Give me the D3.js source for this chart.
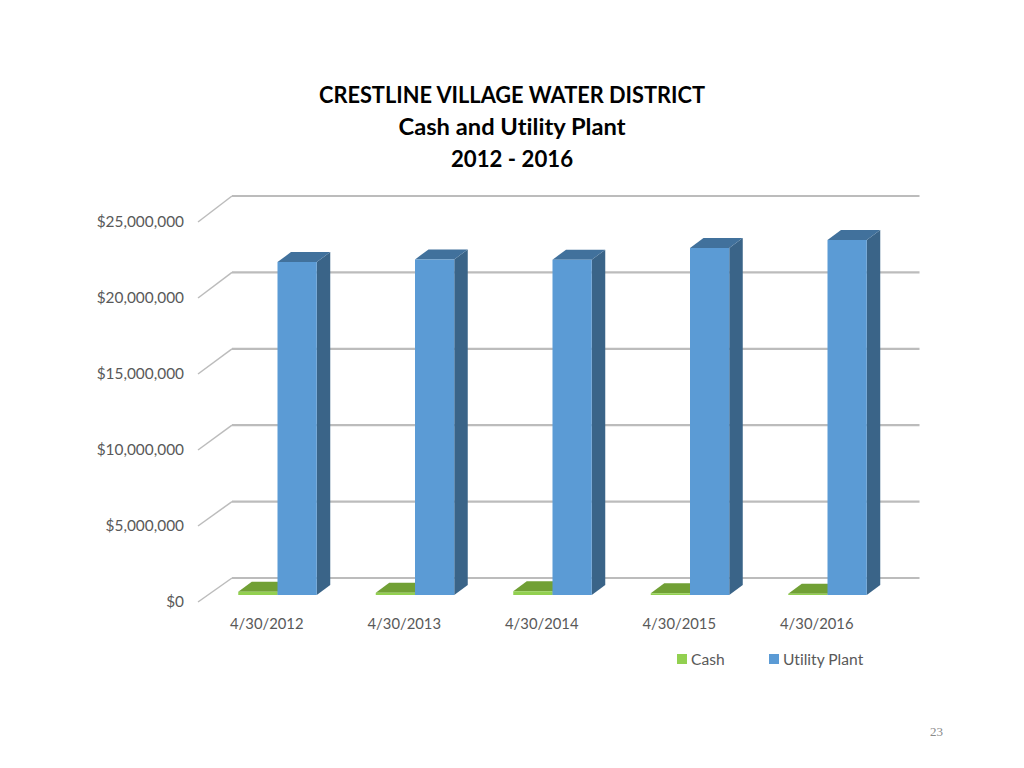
<!DOCTYPE html>
<html>
<head>
<meta charset="utf-8">
<script src="https://cdn.jsdelivr.net/npm/d3@7"></script>
<style>
  html, body { margin: 0; background: #fff; }
  text { font-family: Lato, "Open Sans", sans-serif; font-variant-ligatures: none; }
</style>
</head>
<body>
<svg id="chart" width="1024" height="768"></svg>
<script>
const titleLines = ["CRESTLINE VILLAGE WATER DISTRICT", "Cash and Utility Plant", "2012 - 2016"];
const dates = ["4/30/2012", "4/30/2013", "4/30/2014", "4/30/2015", "4/30/2016"];
const seriesNames = ["Cash", "Utility Plant"];
const cash = [220000, 150000, 240000, 110000, 90000];
const utilityPlant = [21900000, 22080000, 22060000, 22830000, 23350000];
const yTicks = [0, 5000000, 10000000, 15000000, 20000000, 25000000];

const svg = d3.select("#chart");

const wallDx = 34;
const barDepthX = 13.5, barDepthY = -10;
const barFrontDy = -7, barShiftX = 11;

const x = d3.scaleBand().domain(dates).range([198, 885.5]);
const y = d3.scaleLinear().domain([0, 25000000]).range([602, 222]);
const yBack = d3.scaleLinear().domain([0, 25000000]).range([578, 196]);   // back wall
const sub = d3.scaleBand().domain(seriesNames).range([-39.5, 39]);

const colors = {
    "Cash": { front: "#92d050", top: "#71a035", side: "#5f8a2c" },
    "Utility Plant": { front: "#5b9bd5", top: "#41719c", side: "#3a6488" }
};

// grid lines, floor/side piece then back wall
const grid = svg.append("g").attr("fill", "none").attr("stroke", "#bcbcbc");
yTicks.forEach(function(t) {
    grid.append("path")
        .attr("stroke-width", 1.5)
        .attr("d", d3.line()([[x.range()[0], y(t)], [x.range()[0] + wallDx, yBack(t)]]));
    grid.append("path")
        .attr("stroke-width", 2.2)
        .attr("d", d3.line()([[x.range()[0] + wallDx, yBack(t)], [x.range()[1] + wallDx, yBack(t)]]));
});

function drawBar(g, name, date, value) {
    let c = colors[name],
        x0 = x(date) + x.bandwidth() / 2 + barShiftX + sub(name),
        x1 = x0 + sub.bandwidth(),
        y0 = y(0) + barFrontDy,
        y1 = y(value) + barFrontDy;
    let poly = d3.line();
    g.append("path").attr("fill", c.side)
        .attr("d", poly([[x1, y0], [x1 + barDepthX, y0 + barDepthY], [x1 + barDepthX, y1 + barDepthY], [x1, y1]]) + "Z");
    g.append("path").attr("fill", c.top)
        .attr("d", poly([[x0, y1], [x0 + barDepthX, y1 + barDepthY], [x1 + barDepthX, y1 + barDepthY], [x1, y1]]) + "Z");
    g.append("path").attr("fill", c.front)
        .attr("d", poly([[x0, y0], [x1, y0], [x1, y1], [x0, y1]]) + "Z");
}

const bars = svg.append("g");
dates.forEach(function(d, i) {
    drawBar(bars, "Cash", d, cash[i]);
    drawBar(bars, "Utility Plant", d, utilityPlant[i]);
});

// axes
const yAxis = svg.append("g")
    .attr("transform", "translate(191,0)")
    .call(d3.axisLeft(y).tickValues(yTicks).tickSize(0).tickPadding(0)
        .tickFormat(d3.format("$,.0f")));
yAxis.select(".domain").remove();
yAxis.selectAll("text")
    .attr("x", -7)
    .style("font-family", "Lato").style("font-size", "15.4px").attr("fill", "#595959");

const xAxis = svg.append("g")
    .attr("transform", "translate(0,624)")
    .call(d3.axisBottom(x).tickSize(0).tickPadding(0));
xAxis.select(".domain").remove();
xAxis.selectAll("text")
    .attr("y", 0).attr("dy", "0.36em")
    .style("font-family", "Lato").style("font-size", "14.8px").attr("fill", "#595959");

// title, squeezed to the widths of the original font
const titleWidths = [386, 227, 122];
svg.append("g").selectAll("text").data(titleLines).join("text")
    .attr("x", 512)
    .attr("y", (d, i) => 103 + i * 32)
    .attr("text-anchor", "middle")
    .attr("font-weight", 700)
    .attr("font-size", 23.5)
    .attr("fill", "#000")
    .attr("textLength", (d, i) => titleWidths[i])
    .attr("lengthAdjust", "spacingAndGlyphs")
    .text(d => d);

// legend
const legendX = d3.scaleOrdinal().domain(seriesNames).range([677, 769]);
const legend = svg.append("g").selectAll("g").data(seriesNames).join("g")
    .attr("transform", d => "translate(" + legendX(d) + ",654)");
legend.append("rect").attr("width", 10).attr("height", 10).attr("fill", d => colors[d].front);
legend.append("text")
    .attr("x", 14).attr("y", 5).attr("dy", "0.36em")
    .attr("font-size", 15.6).attr("fill", "#595959")
    .text(d => d);

// slide number
svg.append("text")
    .attr("x", 943).attr("y", 736).attr("text-anchor", "end")
    .attr("font-size", 13).attr("fill", "#8b8b8b")
    .style("font-family", "'Liberation Serif', serif")
    .text("23");
</script>
</body>
</html>
